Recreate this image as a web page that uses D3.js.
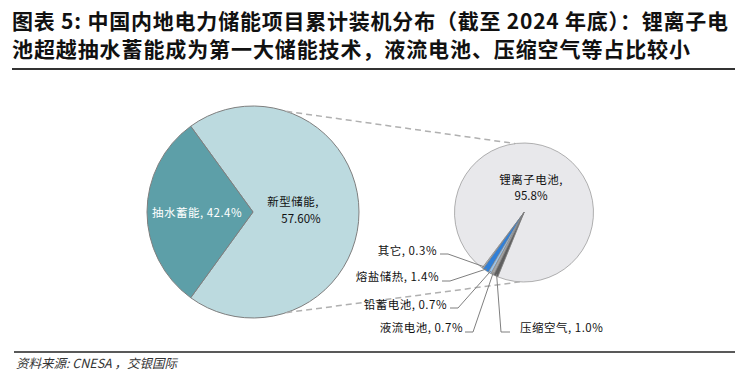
<!DOCTYPE html>
<html><head><meta charset="utf-8">
<script src="https://cdn.jsdelivr.net/npm/d3@7"></script>
<style>
body{margin:0;background:#fff;}
svg{display:block;font-family:"Noto Sans CJK SC","Noto Sans",sans-serif;}
</style></head>
<body><svg id="c" width="748" height="378"></svg>
<script>
// ---- data ----
const titleLines = ["图表 5: 中国内地电力储能项目累计装机分布（截至 2024 年底）：锂离子电",
                    "池超越抽水蓄能成为第一大储能技术，液流电池、压缩空气等占比较小"];
const sourceText = "资料来源: CNESA ，交银国际";
// main pie (labels as printed; shares as drawn in the picture)
const mainCategories = ["新型储能", "抽水蓄能"];
const mainLabels = ["57.60%", "42.4%"];
const mainShares = [70, 30];
// secondary pie (new-type storage breakdown)
const subCategories = ["锂离子电池", "其它", "熔盐储热", "铅蓄电池", "液流电池", "压缩空气"];
const subValues = [95.8, 0.3, 1.4, 0.7, 0.7, 1.0];
const subLabels = ["95.8%", "0.3%", "1.4%", "0.7%", "0.7%", "1.0%"];

// ---- styles / layout ----
const mainColors = ["#bcdadf", "#5d9fa8"];
const subColors = ["#e8e8eb", "#bcbcbc", "#2f7fd8", "#9cc2e6", "#a5a5a5", "#5f5f5f"];
const titleWidths = [716, 678];
const deg = Math.PI / 180;
const svg = d3.select("#c");

// title
svg.selectAll("text.title").data(titleLines).join("text")
  .attr("x", 12).attr("y", (d, i) => 29 + i * 28)
  .attr("font-size", 21).attr("font-weight", "bold").attr("fill", "#111")
  .attr("textLength", (d, i) => titleWidths[i]).attr("lengthAdjust", "spacing")
  .text(d => d);
svg.append("line").attr("x1", 12).attr("x2", 735).attr("y1", 69).attr("y2", 69)
  .attr("stroke", "#333").attr("stroke-width", 2);
svg.append("line").attr("x1", 14).attr("x2", 735).attr("y1", 352).attr("y2", 352)
  .attr("stroke", "#222").attr("stroke-width", 1.5);
svg.append("text").attr("x", 16).attr("y", 368).attr("font-size", 12.5)
  .attr("font-style", "italic").attr("fill", "#333").text(sourceText);

// main pie
const C1 = [253, 212], R1 = 106;
const pie1 = d3.pie().sort(null).startAngle(-36 * deg).endAngle(324 * deg);
const arc1 = d3.arc().innerRadius(0).outerRadius(R1);
const g1 = svg.append("g").attr("transform", `translate(${C1})`);
g1.selectAll("path").data(pie1(mainShares)).join("path")
  .attr("d", arc1).attr("fill", (d, i) => mainColors[i])
  .attr("stroke", "#7f7f7f").attr("stroke-width", 1);

// secondary pie
const C2 = [524, 212.5], R2 = 69.5;
const pie2 = d3.pie().sort(null).startAngle(562.2 * deg).endAngle(202.2 * deg);
const arc2 = d3.arc().innerRadius(0).outerRadius(R2);
const g2 = svg.append("g").attr("transform", `translate(${C2})`);
const subArcs = pie2(subValues);
g2.selectAll("path").data(subArcs).join("path")
  .attr("d", arc2).attr("fill", (d, i) => subColors[i])
  .attr("stroke", "#7f7f7f").attr("stroke-width", 0.6);

// dashed connectors
function pt(c, r, a) { return [c[0] + r * Math.sin(a * deg), c[1] - r * Math.cos(a * deg)]; }
[[18.3, -7.4], [161.7, 183.4]].forEach(([a1, a2]) => {
  const p = pt(C1, R1, a1), q = pt(C2, R2, a2);
  svg.append("line").attr("x1", p[0]).attr("y1", p[1]).attr("x2", q[0]).attr("y2", q[1])
    .attr("stroke", "#b0b0b0").attr("stroke-width", 1.5).attr("stroke-dasharray", "6,4");
});

// main labels
svg.append("text").attr("x", 197).attr("y", 217).attr("text-anchor", "middle")
  .attr("font-size", 11.5).attr("fill", "#fff").attr("letter-spacing", 0.5)
  .text(mainCategories[1] + ", " + mainLabels[1]);
svg.append("text").attr("x", 293).attr("y", 206).attr("text-anchor", "middle")
  .attr("font-size", 11.5).attr("fill", "#111").attr("letter-spacing", 0.5)
  .text(mainCategories[0] + ",");
svg.append("text").attr("x", 301).attr("y", 223).attr("text-anchor", "middle")
  .attr("font-size", 11.5).attr("fill", "#111").text(mainLabels[0]);

// sub labels
svg.append("text").attr("x", 531).attr("y", 184).attr("text-anchor", "middle")
  .attr("font-size", 11.5).attr("fill", "#111").attr("letter-spacing", 0.5)
  .text(subCategories[0] + ",");
svg.append("text").attr("x", 531).attr("y", 200).attr("text-anchor", "middle")
  .attr("font-size", 11.5).attr("fill", "#111").text(subLabels[0]);

// leader-labelled small slices: [textX, textY(baseline), anchor, lineStartX, elbowX, lineY]
const leaderLayout = [
  null,
  [437, 255, "end", 440, 448, 254],
  [439, 281, "end", 442, 450, 281],
  [447, 309, "end", 450, 458, 308],
  [463, 332, "end", 465, 473, 332],
  [520, 332, "start", 510, 501, 332]
];
subArcs.forEach((d, i) => {
  const L = leaderLayout[i];
  if (!L) return;
  const mid = (d.startAngle + d.endAngle) / 2 / deg;
  const p = pt(C2, R2 * 0.97, mid);
  svg.append("polyline")
    .attr("points", [[L[3], L[5]], [L[4], L[5]], p].map(q => q.join(",")).join(" "))
    .attr("fill", "none").attr("stroke", "#7f7f7f").attr("stroke-width", 1);
  svg.append("text").attr("x", L[0]).attr("y", L[1]).attr("text-anchor", L[2])
    .attr("font-size", 11.5).attr("fill", "#111").attr("letter-spacing", 0.5)
    .text(subCategories[i] + ", " + subLabels[i]);
});
</script></body></html>
